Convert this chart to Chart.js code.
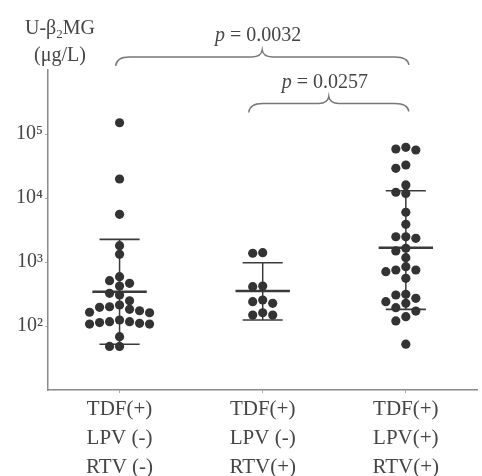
<!DOCTYPE html>
<html>
<head>
<meta charset="utf-8">
<script src="https://cdn.jsdelivr.net/npm/chart.js@4.4.1/dist/chart.umd.min.js"></script>
<style>
  html, body { margin: 0; padding: 0; background: #fff; }
  #wrap { width: 482px; height: 476px; position: relative; }
</style>
</head>
<body>
<div id="wrap"><canvas id="c"></canvas></div>
<script>
// groups on the x axis (multi-line labels)
const groupLabels = [
  ['TDF(+)', 'LPV (-)', 'RTV (-)'],
  ['TDF(+)', 'LPV (-)', 'RTV(+)'],
  ['TDF(+)', 'LPV(+)', 'RTV(+)']
];

// individual U-β2MG values (µg/L)
const g1Values = [150000, 19800, 5560, 1800, 1320, 589, 511, 465, 422, 324, 305, 248, 213, 200, 196,
                  182, 173, 164, 161, 124, 117, 117, 113, 110, 107, 107, 68, 48, 48];
const g2Values = [1400, 1370, 420, 411, 255, 240, 226, 161, 148, 148];
const g3Values = [62000, 58300, 56200, 32800, 29100, 16000, 12300, 11800, 5990, 3880, 2480, 2480, 2340,
                  1640, 1490, 1170, 845, 750, 750, 705, 556, 313, 305, 271, 240, 226, 193, 171, 140, 120, 52];

// median and whiskers per group
const medians   = [343, 352, 1670];
const upperBars = [2260, 975, 13000];
const lowerBars = [52, 124, 182];

const yTicks = [1e2, 1e3, 1e4, 1e5];
const comparisons = [
  { from: 1, to: 3, p: '0.0032', at: 1.6e6 },
  { from: 2, to: 3, p: '0.0257', at: 3.0e5 }
];

const SERIF = '"Liberation Serif", "DejaVu Serif", serif';
const TXT = '#454545';
const DOT = '#333';
const SUP = { 2: '²', 3: '³', 4: '⁴', 5: '⁵' };

const allGroups = [g1Values, g2Values, g3Values];

const datasets = allGroups.map((vals, gi) => ({
  type: 'scatter',
  data: vals.map(v => ({ x: gi + 1, y: v })),
  pointRadius: 4.6,
  pointBackgroundColor: DOT,
  pointBorderColor: DOT,
  pointBorderWidth: 0,
  order: 1
}));

function seg(pts, w) {
  return {
    type: 'line', data: pts, showLine: true, pointRadius: 0,
    borderColor: '#3a3a3a', borderWidth: w, order: 2
  };
}
medians.forEach((m, i) => {
  const g = i + 1;
  datasets.push(seg([{ x: g - 0.19, y: m }, { x: g + 0.19, y: m }], 2.4));
  datasets.push(seg([{ x: g, y: lowerBars[i] }, { x: g, y: upperBars[i] }], 1.5));
  datasets.push(seg([{ x: g - 0.14, y: upperBars[i] }, { x: g + 0.14, y: upperBars[i] }], 1.6));
  datasets.push(seg([{ x: g - 0.14, y: lowerBars[i] }, { x: g + 0.14, y: lowerBars[i] }], 1.6));
});

// curly braces, p values and the y title
const annotations = {
  id: 'annotations',
  afterDraw(chart) {
    const { ctx, scales: { x, y } } = chart;
    ctx.save();
    ctx.strokeStyle = '#777';
    ctx.lineWidth = 1.4;
    comparisons.forEach(c => {
      const x1 = x.getPixelForValue(c.from) - (c.from === 1 ? 4 : 14);
      const x2 = x.getPixelForValue(c.to) + 3;
      const xm = (x1 + x2) / 2;
      const yy = y.getPixelForValue(c.at);
      ctx.beginPath();
      ctx.moveTo(x1, yy + 9);
      ctx.quadraticCurveTo(x1 + 1, yy, x1 + 14, yy);
      ctx.lineTo(xm - 10, yy);
      ctx.quadraticCurveTo(xm - 1, yy, xm, yy - 7);
      ctx.quadraticCurveTo(xm + 1, yy, xm + 10, yy);
      ctx.lineTo(x2 - 14, yy);
      ctx.quadraticCurveTo(x2 - 1, yy, x2, yy + 8);
      ctx.stroke();

      // "p = 0.0032"
      ctx.fillStyle = TXT;
      ctx.textBaseline = 'middle';
      ctx.font = 'italic 20px ' + SERIF;
      const pW = ctx.measureText('p').width;
      ctx.font = '20px ' + SERIF;
      const rest = ' = ' + c.p;
      const rW = ctx.measureText(rest).width;
      let tx = xm - 4 - (pW + rW) / 2;
      const ty = yy - 21;
      ctx.textAlign = 'left';
      ctx.font = 'italic 20px ' + SERIF;
      ctx.fillText('p', tx, ty);
      ctx.font = '20px ' + SERIF;
      ctx.fillText(rest, tx + pW, ty);
    });

    // y title: U-β2MG (µg/L)
    ctx.fillStyle = TXT;
    ctx.textBaseline = 'alphabetic';
    ctx.textAlign = 'left';
    ctx.font = '20px ' + SERIF;
    const a = 'U-β', b = 'MG';
    const aw = ctx.measureText(a).width, bw = ctx.measureText(b).width;
    ctx.font = '13px ' + SERIF;
    const sw = ctx.measureText('2').width;
    let tx = 60 - (aw + sw + bw) / 2;
    ctx.font = '20px ' + SERIF;
    ctx.fillText(a, tx, 34);
    ctx.font = '13px ' + SERIF;
    ctx.fillText('2', tx + aw, 38);
    ctx.font = '20px ' + SERIF;
    ctx.fillText(b, tx + aw + sw, 34);
    ctx.textAlign = 'center';
    ctx.fillText('(μg/L)', 60, 61);
    ctx.restore();
  }
};

const chart = new Chart(document.getElementById('c'), {
  type: 'scatter',
  data: { datasets },
  options: {
    responsive: true,
    maintainAspectRatio: false,
    animation: false,
    layout: { padding: { top: 70, left: 0, right: 0, bottom: 0 } },
    plugins: { legend: { display: false }, tooltip: { enabled: false } },
    scales: {
      x: {
        type: 'linear', min: 0.5, max: 3.5,
        afterBuildTicks: s => { s.ticks = [1, 2, 3].map(v => ({ value: v })); },
        afterFit: s => { s.height = 86; },
        ticks: {
          callback: v => groupLabels[v - 1] || '',
          font: { family: SERIF, size: 21, lineHeight: 1.38 },
          color: TXT, padding: 2, maxRotation: 0, autoSkip: false
        },
        grid: { drawOnChartArea: false, tickLength: 3, color: '#aaa' },
        border: { color: '#8a8a8a', width: 1.5 }
      },
      y: {
        type: 'logarithmic', min: 10, max: 1e6,
        afterBuildTicks: s => { s.ticks = yTicks.map(v => ({ value: v })); },
        afterFit: s => { s.width = 48; },
        ticks: {
          callback: v => '10' + SUP[Math.round(Math.log10(v))],
          font: { family: SERIF, size: 20 },
          color: TXT, padding: 2
        },
        grid: { drawOnChartArea: false, tickLength: 3, color: '#aaa' },
        border: { color: '#8a8a8a', width: 1.5 }
      }
    }
  },
  plugins: [annotations]
});

// beeswarm: spread overlapping dots sideways, computed from the y scale
function swarm(values, yScale, unitPx) {
  const STEP = 10, MIN = 8.4;
  const placed = [];
  const out = new Array(values.length);
  const order = values.map((v, i) => i).sort((a, b) => values[b] - values[a]);
  for (const i of order) {
    const py = yScale.getPixelForValue(values[i]);
    for (let k = 0; k < 40; k++) {
      const slot = k === 0 ? 0 : (k % 2 ? -Math.ceil(k / 2) : k / 2);
      const px = slot * STEP;
      if (placed.every(p => Math.hypot(p.x - px, p.y - py) >= MIN)) {
        placed.push({ x: px, y: py });
        out[i] = px / unitPx;
        break;
      }
    }
  }
  return out;
}
const unitPx = chart.scales.x.getPixelForValue(2) - chart.scales.x.getPixelForValue(1);
allGroups.forEach((vals, gi) => {
  const offs = swarm(vals, chart.scales.y, unitPx);
  chart.data.datasets[gi].data = vals.map((v, i) => ({ x: gi + 1 + offs[i], y: v }));
});
chart.update('none');
</script>
</body>
</html>
